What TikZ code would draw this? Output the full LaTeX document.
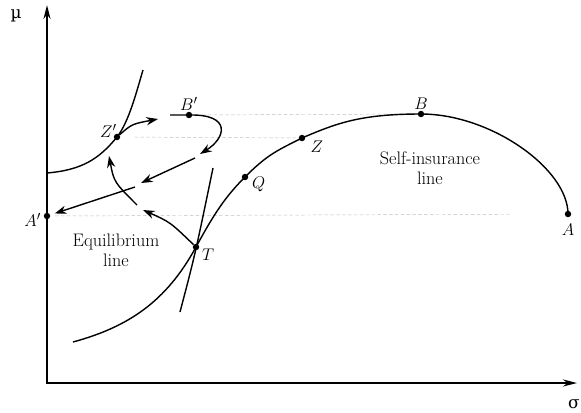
\documentclass[tikz,border=0pt]{standalone}
\usepackage{fontspec}
\newfontfamily\grkfont{DejaVu Serif}
\usepackage{tikz}
\usetikzlibrary{arrows.meta, positioning}

\begin{document}
\begin{tikzpicture}[x=0.03cm, y=-0.03cm]
    % Define styles
    \tikzstyle{dot} = [circle, fill=black, inner sep=0pt, minimum size=5.5pt]
    \tikzstyle{lbl} = [font=\fontsize{15.5}{17}\selectfont, inner sep=1pt]
    \tikzstyle{curve} = [line width=1.2pt]
    \tikzstyle{move} = [line width=1.2pt, -{Stealth[length=10pt, width=7pt]}]
    \tikzstyle{guide} = [gray!50, densely dashed, thin]
    \tikzstyle{axis} = [line width=1.4pt, {Stealth[length=12pt, width=6pt]}-{Stealth[length=12pt, width=6pt]}]

    \useasboundingbox (0,0) rectangle (581,412);

    % Axes
    \coordinate (ytip) at (47,5);
    \coordinate (O) at (47,383);
    \coordinate (xtip) at (577,383);
    \draw[axis] (ytip) -- (O) -- (xtip);
    \node[font=\Large] (mu) at (16,16) {\grkfont µ};
    \node[font=\Large] (sigma) at (574,404) {\grkfont σ};

    % Points
    \node[dot] (Ap) at (47,216) {};
    \node[dot] (Zp) at (117,137) {};
    \node[dot] (Bp) at (189,115) {};
    \node[dot] (T) at (196,247) {};
    \node[dot] (Q) at (245,177) {};
    \node[dot] (Z) at (302,138) {};
    \node[dot] (B) at (421,114) {};
    \node[dot] (A) at (568,214) {};

    \node[lbl, left=1pt of Ap, yshift=-3pt] (ApL) {$A'$};
    \node[lbl, above left=-4pt and -3pt of Zp] (ZpL) {$Z'$};
    \node[lbl, above=0pt of Bp] (BpL) {$B'$};
    \node[lbl, above=0pt of B] (BL) {$B$};
    \node[lbl, below right=-1pt and 4pt of Z] (ZL) {$Z$};
    \node[lbl, right=2pt of Q, yshift=-6pt] (QL) {$Q$};
    \node[lbl, below right=-2pt and 2pt of T] (TL) {$T$};
    \node[lbl, below=4pt of A] (AL) {$A$};

    % Guide lines
    \draw[guide, shorten <=8pt] (Bp) -- (B);
    \draw[guide, shorten <=12pt] (Zp) -- (Z);
    \draw[guide, shorten <=4pt, shorten >=45pt] (Ap) -- (A);

    % Self-insurance line
    \coordinate (s0) at (73,342);
    \draw[curve] (s0) .. controls +(55,-15) and +(-30,55) .. (T.center)
        .. controls +(18,-33) and +(-20,20) .. (Q.center)
        .. controls +(22,-22) and +(-26,13) .. (Z.center)
        .. controls +(35,-15) and +(-60,0) .. (B.center)
        .. controls +(70,0) and +(0,-45) .. (A.center);
    \node[lbl, align=center] (selfins) at (430,168) {Self-insurance\\line};

    % Curve tangent at T
    \coordinate (tb) at (180,312);
    \coordinate (tt) at (213,168);
    \draw[curve] (tb) .. controls (195,255) .. (tt);

    % Curve through Z'
    \coordinate (ic0) at (47,173);
    \coordinate (ic1) at (143,70);
    \draw[curve] (ic0) .. controls +(35,-3) and +(-18,22) .. (Zp.center)
        .. controls +(12,-15) and +(-6,20) .. (ic1);

    % Moves
    \coordinate (m1) at (158,119);
    \draw[move] (Zp) .. controls (132,124) .. (m1);

    \coordinate (l0) at (170,115);
    \coordinate (m2) at (200,154);
    \draw[move] (l0) -- (Bp.center) .. controls (232,114) and (226,138) .. (m2);

    \coordinate (s3) at (195,158);
    \coordinate (m3) at (141,183);
    \draw[move] (s3) -- (m3);

    \coordinate (s4) at (135,187);
    \draw[move, shorten >=4pt] (s4) -- (Ap);

    \coordinate (m5) at (143,210);
    \draw[move] (T) .. controls (170,222) .. (m5);

    \coordinate (s6) at (137,205);
    \coordinate (m6) at (109,156);
    \draw[move] (s6) .. controls (114,182) .. (m6);

    \node[lbl, align=center] (equil) at (116,250) {Equilibrium\\line};

\end{tikzpicture}
\end{document}
